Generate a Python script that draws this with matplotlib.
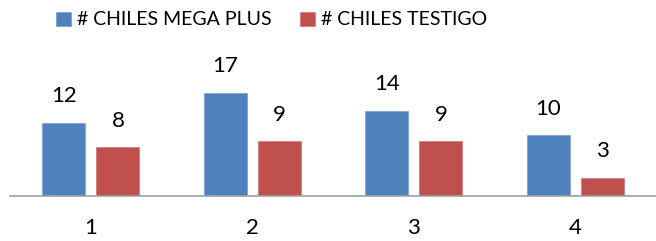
import matplotlib
matplotlib.use("Agg")
import matplotlib.pyplot as plt
import numpy as np

categories = ["1", "2", "3", "4"]
mega_plus = [12, 17, 14, 10]
testigo = [8, 9, 9, 3]
series_names = ["# CHILES MEGA PLUS", "# CHILES TESTIGO"]

plt.rcParams['font.family'] = ['Lato', 'DejaVu Sans']

fig = plt.figure(figsize=(6.56, 2.41), dpi=100)
ax = fig.add_axes([10/656, 45/241, 646/656, (196-74.6)/241])

x = np.arange(len(categories))
w = 0.266
off = 0.168
b1 = ax.bar(x - off, mega_plus, width=w, color="#4F81BD", edgecolor="#7FA3D3", linewidth=0.6, label=series_names[0])
b2 = ax.bar(x + off, testigo, width=w, color="#C0504D", edgecolor="#D37F7D", linewidth=0.6, label=series_names[1])

for bars, vals in ((b1, mega_plus), (b2, testigo)):
    for r, v in zip(bars, vals):
        ax.annotate(str(v), (r.get_x() + r.get_width()/2, r.get_height()),
                    xytext=(0, 12), textcoords="offset points", ha="center", va="bottom", fontsize=16)

ax.set_xlim(-0.5, 3.5)
ax.set_ylim(0, 20)
ax.set_xticks(x)
ax.set_xticklabels(categories, fontsize=16)
ax.tick_params(axis='x', length=0, pad=16)
ax.set_yticks([])
for s in ("top", "right", "left"):
    ax.spines[s].set_visible(False)
ax.spines["bottom"].set_color("#A0A0A0")
ax.spines["bottom"].set_linewidth(1.2)

fig.legend(handles=[b1, b2], loc="upper center", bbox_to_anchor=(0.414, 1.025), ncol=2, frameon=False,
           fontsize=14, handlelength=0.75, handleheight=0.75, handletextpad=0.3, columnspacing=1.5)

fig.savefig("out.png", dpi=100)
